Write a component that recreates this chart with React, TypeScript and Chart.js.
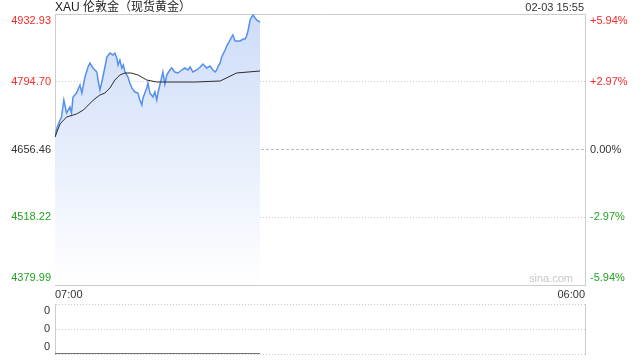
import React, { useEffect, useRef } from 'react';
import { Chart, registerables } from 'chart.js';

Chart.register(...registerables);

const TITLE = 'XAU 伦敦金（现货黄金）';
const DATE_LABEL = '02-03 15:55';
const WATERMARK = 'sina.com';

const BASE_PRICE = 4656.46;
const PRICE_TICKS = [4379.99, 4518.22, 4656.46, 4794.7, 4932.93];
const X_TICK_MINUTES = [0, 1380];
const X_TICK_LABELS = ['07:00', '06:00'];
const VOL_TICKS = [0, 1, 2];
const VOL_TICK_LABELS = ['0', '0', '0'];

// minutes since 07:00
const priceMinutes = [
  0, 5, 10, 17, 23, 30, 39, 43, 47, 56,
  65, 70, 78, 86, 91, 99, 109, 112, 117, 122,
  130, 135, 143, 151, 156, 161, 164, 169, 174, 178,
  182, 190, 195, 200, 208, 216, 221, 226, 229, 239,
  242, 247, 255, 260, 265, 268, 273, 278, 281, 286,
  291, 299, 304, 312, 320, 330, 338, 346, 352, 359,
  369, 378, 385, 395, 404, 411, 417, 421, 425, 430,
  434, 443, 447, 456, 463, 469, 473, 482, 490, 495,
  499, 503, 508, 512, 516, 521, 525, 529, 534,
];
const prices = [
  4681.96, 4700.32, 4710.53, 4722.77, 4757.46, 4730.93, 4743.17, 4730.93, 4763.58, 4771.74,
  4788.06, 4771.74, 4804.38, 4824.79, 4832.95, 4822.75, 4814.59, 4798.26, 4777.86, 4794.18,
  4824.79, 4845.19, 4853.35, 4849.27, 4853.35, 4843.15, 4828.87, 4839.07, 4822.75, 4828.87,
  4814.59, 4804.38, 4792.14, 4781.94, 4773.78, 4771.74, 4757.46, 4747.25, 4761.54, 4781.94,
  4792.14, 4771.74, 4763.58, 4773.78, 4757.46, 4771.74, 4788.06, 4804.38, 4814.59, 4790.0,
  4808.47, 4818.67, 4822.75, 4814.59, 4812.5, 4818.67, 4822.75, 4818.67, 4824.79, 4814.59,
  4818.67, 4824.79, 4830.9, 4822.75, 4826.83, 4818.67, 4814.59, 4818.67, 4826.83, 4832.95,
  4845.19, 4859.5, 4867.6, 4880.0, 4890.08, 4877.85, 4877.85, 4877.85, 4881.9, 4881.9,
  4888.0, 4900.3, 4920.69, 4926.81, 4930.89, 4924.77, 4920.69, 4918.6, 4916.61,
];

const avgMinutes = [0, 13, 30, 56, 74, 100, 117, 130, 143, 156, 169, 182, 198, 216, 239, 265, 365, 430, 473, 534];
const avgPrices = [
  4681.96, 4708.49, 4722.77, 4728.89, 4737.05, 4757.46, 4767.66, 4771.74, 4781.94, 4798.26,
  4808.47, 4812.55, 4812.55, 4808.47, 4798.26, 4794.18, 4794.18, 4796.2, 4812.55, 4816.63,
];

const volMinutes = [0, 534];
const volumes = [0, 0];

const FONT = "'Liberation Sans', Arial, 'Noto Sans CJK SC', sans-serif";
const RED = '#f52a2a';
const GREEN = '#22a322';
const DARK = '#333333';
const FRAME = '#cccccc';

function tickColor(v: number) {
  if (v > BASE_PRICE + 0.001) return RED;
  if (v < BASE_PRICE - 0.001) return GREEN;
  return DARK;
}

function shifted(label: string, index: number, count: number): string | string[] {
  if (index === count - 1) return ['', label];
  if (index === 0) return [label, ''];
  return label;
}

function fixWidth(w: number) {
  return (s: any) => {
    s.width = w;
    s.paddingTop = 0;
    s.paddingBottom = 0;
    s.paddingLeft = 0;
    s.paddingRight = 0;
  };
}

function fixHeight(h: number) {
  return (s: any) => {
    s.height = h;
    s.paddingTop = 0;
    s.paddingBottom = 0;
    s.paddingLeft = 0;
    s.paddingRight = 0;
  };
}

export default function App() {
  const mainRef = useRef<HTMLCanvasElement | null>(null);
  const volRef = useRef<HTMLCanvasElement | null>(null);

  useEffect(() => {
    const minP = PRICE_TICKS[0];
    const maxP = PRICE_TICKS[PRICE_TICKS.length - 1];
    const main = new Chart(mainRef.current as HTMLCanvasElement, {
      type: 'line',
      data: {
        datasets: [
          {
            data: avgMinutes.map((m, i) => ({ x: m, y: avgPrices[i] })),
            borderColor: '#2b2b2b',
            borderWidth: 1,
            pointRadius: 0,
            fill: false,
            tension: 0,
          },
          {
            data: priceMinutes.map((m, i) => ({ x: m, y: prices[i] })),
            borderColor: '#5590ee',
            borderWidth: 1.5,
            pointRadius: 0,
            tension: 0,
            fill: 'start',
            backgroundColor: (ctx: any) => {
              const { chart } = ctx;
              const area = chart.chartArea;
              if (!area) return 'rgba(208,223,248,0.8)';
              const g = chart.ctx.createLinearGradient(0, area.top, 0, area.bottom);
              g.addColorStop(0, '#cddcf8');
              g.addColorStop(1, '#ffffff');
              return g;
            },
          },
        ],
      },
      options: {
        animation: false,
        responsive: true,
        maintainAspectRatio: false,
        layout: { padding: { top: 14, left: 0, right: 0, bottom: 0 } },
        plugins: { legend: { display: false }, tooltip: { enabled: false }, title: { display: false } },
        scales: {
          x: {
            type: 'linear',
            min: X_TICK_MINUTES[0],
            max: X_TICK_MINUTES[X_TICK_MINUTES.length - 1],
            afterBuildTicks: (s: any) => {
              s.ticks = X_TICK_MINUTES.map((v) => ({ value: v }));
            },
            afterFit: fixHeight(15),
            ticks: {
              autoSkip: false,
              maxRotation: 0,
              align: 'inner',
              padding: 3,
              color: DARK,
              font: { family: FONT, size: 11 },
              callback: (_v: any, i: number) => X_TICK_LABELS[i],
            },
            grid: { display: false, drawTicks: false, tickLength: 0 },
            border: { display: true, color: FRAME, width: 1 },
          },
          y: {
            type: 'linear',
            position: 'left',
            min: minP,
            max: maxP,
            afterBuildTicks: (s: any) => {
              s.ticks = PRICE_TICKS.map((v) => ({ value: v }));
            },
            afterFit: fixWidth(55),
            ticks: {
              autoSkip: false,
              padding: 4,
              font: { family: FONT, size: 11 },
              color: (ctx: any) => tickColor(ctx.tick ? ctx.tick.value : BASE_PRICE),
              callback: (v: any, i: number, t: any[]) => shifted(Number(v).toFixed(2), i, t.length),
            },
            grid: {
              display: true,
              drawTicks: false,
              lineWidth: 1,
              color: (ctx: any) => {
                const v = ctx.tick ? ctx.tick.value : 0;
                if (Math.abs(v - BASE_PRICE) < 0.001) return '#bdbdbd';
                return FRAME;
              },
            },
            border: {
              display: true,
              color: FRAME,
              width: 1,
              dash: (ctx: any) => {
                if (!ctx.tick) return [];
                const v = ctx.tick.value;
                if (Math.abs(v - minP) < 0.001 || Math.abs(v - maxP) < 0.001) return [];
                if (Math.abs(v - BASE_PRICE) < 0.001) return [3, 2];
                return [1, 2];
              },
            },
          },
          y2: {
            type: 'linear',
            position: 'right',
            min: minP,
            max: maxP,
            afterBuildTicks: (s: any) => {
              s.ticks = PRICE_TICKS.map((v) => ({ value: v }));
            },
            afterFit: fixWidth(55),
            ticks: {
              autoSkip: false,
              padding: 5,
              font: { family: FONT, size: 11 },
              color: (ctx: any) => tickColor(ctx.tick ? ctx.tick.value : BASE_PRICE),
              callback: (v: any, i: number, t: any[]) => {
                const pct = ((Number(v) - BASE_PRICE) / BASE_PRICE) * 100;
                const s = Math.abs(pct) < 0.005 ? '0.00%' : (pct > 0 ? '+' : '') + pct.toFixed(2) + '%';
                return shifted(s, i, t.length);
              },
            },
            grid: { display: false, drawTicks: false },
            border: { display: true, color: FRAME, width: 1 },
          },
        },
      } as any,
    });

    const vol = new Chart(volRef.current as HTMLCanvasElement, {
      type: 'line',
      data: {
        datasets: [
          {
            data: volMinutes.map((m, i) => ({ x: m, y: volumes[i] })),
            borderColor: '#444444',
            borderWidth: 1.5,
            pointRadius: 0,
            fill: false,
            tension: 0,
          },
        ],
      },
      options: {
        animation: false,
        responsive: true,
        maintainAspectRatio: false,
        layout: { padding: { top: 4, left: 0, right: 0, bottom: 6 } },
        plugins: { legend: { display: false }, tooltip: { enabled: false } },
        scales: {
          x: {
            type: 'linear',
            display: false,
            min: X_TICK_MINUTES[0],
            max: X_TICK_MINUTES[X_TICK_MINUTES.length - 1],
          },
          y: {
            type: 'linear',
            position: 'left',
            min: VOL_TICKS[0],
            max: VOL_TICKS[VOL_TICKS.length - 1],
            afterBuildTicks: (s: any) => {
              s.ticks = VOL_TICKS.map((v) => ({ value: v }));
            },
            afterFit: fixWidth(55),
            ticks: {
              autoSkip: false,
              padding: 5,
              color: DARK,
              font: { family: FONT, size: 11 },
              callback: (_v: any, i: number, t: any[]) => shifted(VOL_TICK_LABELS[i], i, t.length),
            },
            grid: { display: true, drawTicks: false, color: FRAME, lineWidth: 1 },
            border: {
              display: true,
              color: FRAME,
              width: 1,
              dash: (ctx: any) => (ctx.tick ? [1, 2] : []),
            },
          },
          y2: {
            type: 'linear',
            position: 'right',
            min: VOL_TICKS[0],
            max: VOL_TICKS[VOL_TICKS.length - 1],
            afterFit: fixWidth(55),
            ticks: { display: false },
            grid: { display: false, drawTicks: false },
            border: { display: true, color: FRAME, width: 1 },
          },
        },
      } as any,
    });

    return () => {
      main.destroy();
      vol.destroy();
    };
  }, []);

  return (
    <div
      style={{
        position: 'fixed',
        left: 0,
        top: 0,
        width: 640,
        height: 360,
        background: '#ffffff',
        fontFamily: FONT,
        overflow: 'hidden',
      }}
    >
      <div style={{ position: 'absolute', left: 0, top: 0, width: 640, height: 300 }}>
        <canvas ref={mainRef} />
      </div>
      <div style={{ position: 'absolute', left: 0, top: 300, width: 640, height: 60 }}>
        <canvas ref={volRef} />
      </div>
      <div
        style={{
          position: 'absolute',
          left: 55,
          top: 0,
          fontSize: 12,
          lineHeight: '14px',
          color: '#222',
          whiteSpace: 'nowrap',
        }}
      >
        {TITLE}
      </div>
      <div
        style={{
          position: 'absolute',
          right: 56,
          top: 0,
          fontSize: 11,
          lineHeight: '14px',
          color: DARK,
          whiteSpace: 'nowrap',
        }}
      >
        {DATE_LABEL}
      </div>
      <div
        style={{
          position: 'absolute',
          right: 67,
          top: 271,
          fontSize: 11,
          lineHeight: '14px',
          color: '#c8c8c8',
          whiteSpace: 'nowrap',
        }}
      >
        {WATERMARK}
      </div>
    </div>
  );
}
